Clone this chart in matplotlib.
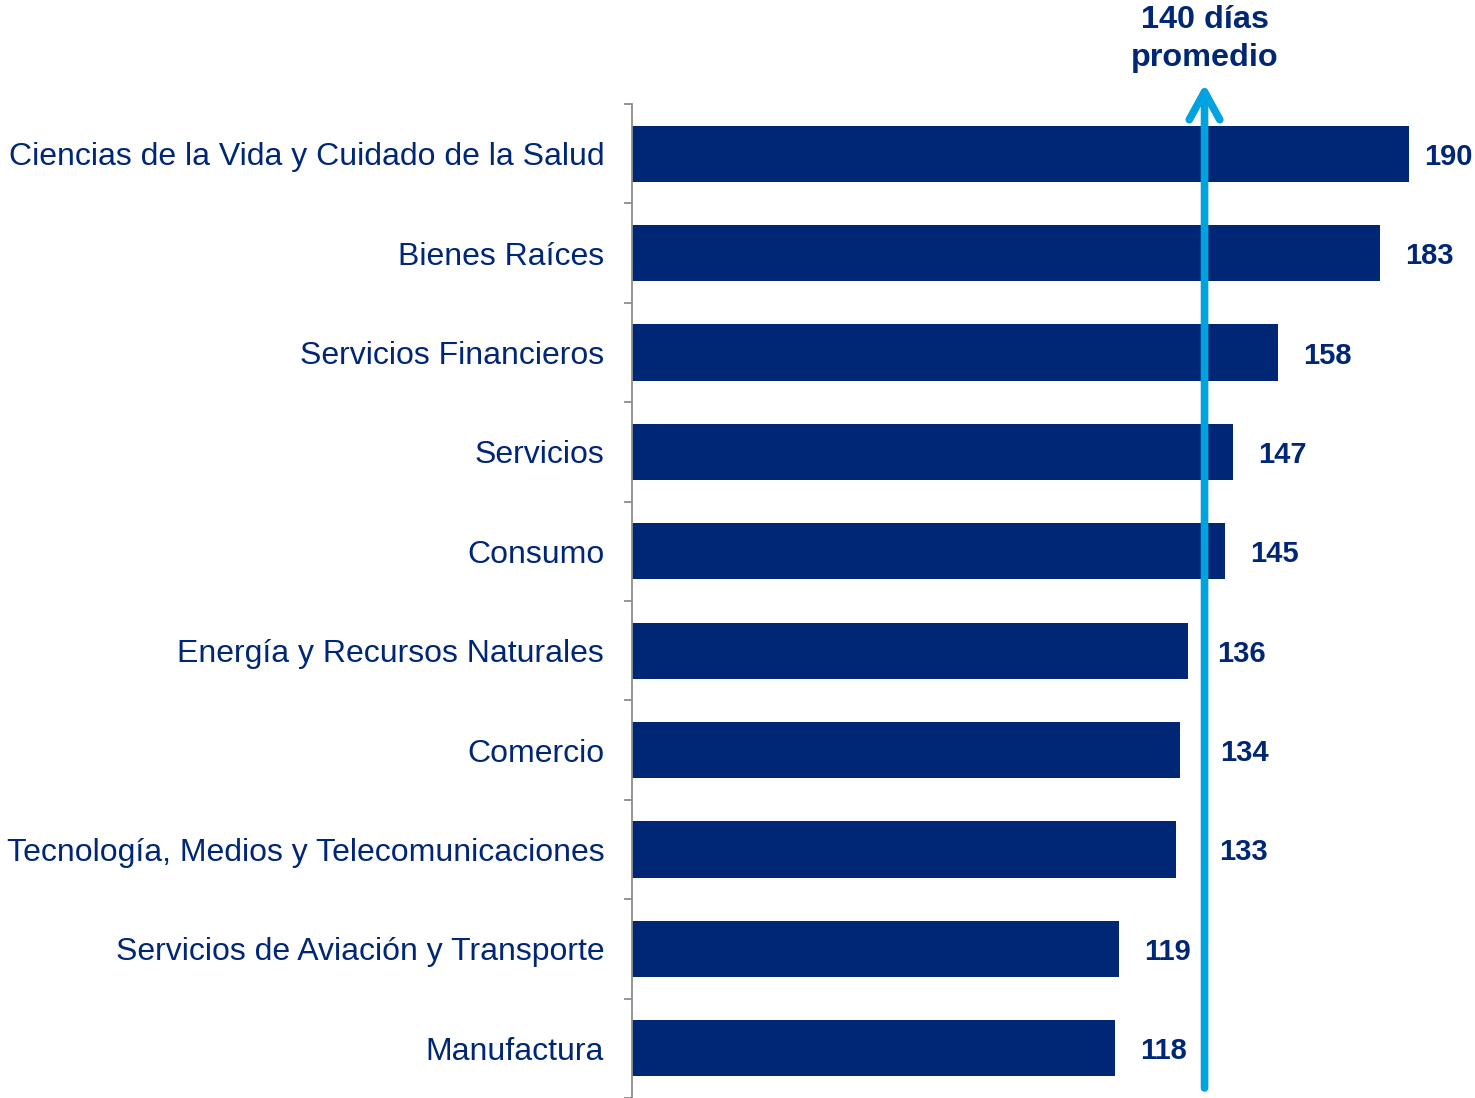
import matplotlib
matplotlib.use("Agg")
import matplotlib.pyplot as plt
from matplotlib.patches import FancyArrowPatch
import numpy as np

plt.rcParams['font.family'] = ['Liberation Sans', 'DejaVu Sans']

categories = [
    "Ciencias de la Vida y Cuidado de la Salud",
    "Bienes Raíces",
    "Servicios Financieros",
    "Servicios",
    "Consumo",
    "Energía y Recursos Naturales",
    "Comercio",
    "Tecnología, Medios y Telecomunicaciones",
    "Servicios de Aviación y Transporte",
    "Manufactura",
]
values = [190, 183, 158, 147, 145, 136, 134, 133, 119, 118]
average = 140
average_lines = ["140 días", "promedio"]

# label offsets in pixels from bar end (style only)
label_offsets_px = [15, 25, 25, 25, 25, 29, 40, 43, 25, 26]

NAVY = "#002776"
BLUE = "#00A3E0"
GRAY = "#8c8c8c"

W, H = 1475, 1098
fig = plt.figure(figsize=(W / 100, H / 100), dpi=100)
ax_left, ax_top, ax_bottom = 632, 104, 1098
ax = fig.add_axes([ax_left / W, 1 - ax_bottom / H, 1 - ax_left / W, (ax_bottom - ax_top) / H])

px_per_unit = (1409 - 632) / 190
xmax = (W - ax_left) / px_per_unit
ax.set_xlim(0, xmax)
n = len(categories)
ax.set_ylim(n - 0.5, -0.5)
row_px = (ax_bottom - ax_top) / n

y = np.arange(n)
ax.barh(y, values, height=0.565, color=NAVY, zorder=2)

for sp in ["top", "right", "bottom"]:
    ax.spines[sp].set_visible(False)
ax.spines["left"].set_color(GRAY)
ax.spines["left"].set_linewidth(1.3)
ax.set_xticks([])
ax.set_yticks(y)
ax.set_yticklabels(categories, fontsize=23, color=NAVY)
ax.tick_params(axis='y', which='major', length=0, pad=20)
ax.set_yticks(np.arange(n + 1) - 0.5, minor=True)
ax.tick_params(axis='y', which='minor', length=6, width=1.3, color=GRAY, direction='out')

for i, (v, off) in enumerate(zip(values, label_offsets_px)):
    ax.text(v + off / px_per_unit, i + 3 / row_px, str(v), ha='left', va='center',
            fontsize=21, fontweight='bold', color=NAVY)

# average arrow
y_bottom = (n - 0.5) - 10 / row_px
y_tip = -0.5 - 20 / row_px
arrow = FancyArrowPatch((average, y_bottom), (average, y_tip),
                        arrowstyle='->,head_length=20,head_width=11',
                        mutation_scale=1, linewidth=5.5, color=BLUE,
                        capstyle='round', joinstyle='round',
                        shrinkA=0, shrinkB=0, clip_on=False, zorder=3)
ax.add_patch(arrow)

x_avg_fig = (ax_left + average * px_per_unit) / W
for line, base_px in zip(average_lines, [28, 66]):
    fig.text(x_avg_fig, 1 - base_px / H, line, ha='center', va='baseline',
             fontsize=23.3, fontweight='bold', color=NAVY)

fig.savefig("out.png", dpi=100)
